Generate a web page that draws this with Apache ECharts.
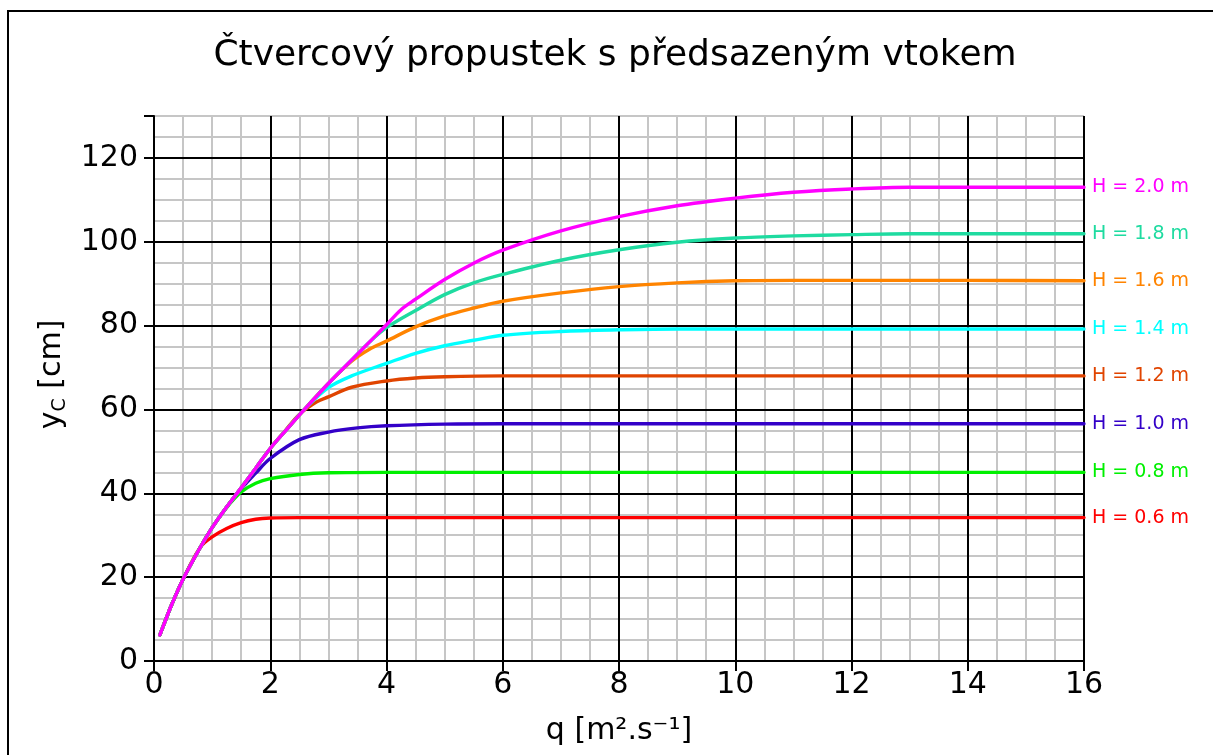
<!DOCTYPE html>
<html>
<head>
<meta charset="utf-8">
<title>Čtvercový propustek s předsazeným vtokem</title>
<script src="https://cdn.jsdelivr.net/npm/echarts@6/dist/echarts.min.js"></script>
<style>
  html, body { margin: 0; padding: 0; background: #ffffff; }
  #chart { width: 1213px; height: 755px; }
</style>
</head>
<body>
<div id="chart"></div>
<script>
// Common rising branch y_c(q), shared by all curves until each one levels off
const envelope = [
  [0.1, 6.2], [0.2, 9.8], [0.3, 13.3], [0.5, 19.5], [0.8, 27.2], [1.0, 31.8],
  [1.2, 35.8], [1.5, 41.3], [1.75, 46.0], [2.0, 50.7], [2.3, 55.5], [2.6, 60.2],
  [3.0, 66.2], [3.4, 71.8], [3.7, 76.0], [4.0, 80.2], [4.25, 83.8], [4.5, 86.3],
  [5.0, 91.0], [5.5, 94.9], [6.0, 98.0], [7.0, 102.6], [8.0, 106.0], [9.0, 108.6],
  [10, 110.4], [11, 111.8], [12, 112.6], [13, 113.0], [14, 113.0], [16, 113.0]
];

// Branches leaving the common curve, one per head H (q, y_c)
const branchH06 = [[1.0, 29.6], [1.25, 31.6], [1.5, 33.0], [1.75, 33.8], [2.0, 34.1], [2.5, 34.2], [16, 34.2]];
const branchH08 = [[1.25, 36.6], [1.5, 40.3], [1.75, 42.4], [2.0, 43.5], [2.5, 44.5], [3.0, 44.9], [4.0, 45.0], [16, 45.0]];
const branchH10 = [[1.45, 40.3], [1.75, 44.8], [2.0, 48.3], [2.5, 52.8], [3.0, 54.6], [3.5, 55.6], [4.0, 56.1], [5.0, 56.5], [6.0, 56.6], [16, 56.6]];
const branchH12 = [[2.25, 54.8], [2.5, 58.8], [2.8, 61.8], [3.0, 63.0], [3.4, 65.3], [4.0, 66.8], [4.5, 67.5], [5.0, 67.8], [6.0, 68.0], [16, 68.0]];
const branchH14 = [[3.0, 65.2], [3.4, 68.0], [4.0, 71.0], [4.5, 73.4], [5.0, 75.2], [5.5, 76.5], [6.0, 77.7], [7.0, 78.6], [8.0, 79.0], [9.0, 79.2], [16, 79.2]];
const branchH16 = [[3.4, 71.5], [3.7, 74.3], [4.0, 76.3], [4.5, 79.7], [5.0, 82.3], [5.5, 84.2], [6.0, 85.8], [7.0, 87.8], [8.0, 89.3], [9.0, 90.2], [10, 90.7], [11, 90.8], [12, 90.8], [14, 90.8], [16, 90.7]];
const branchH18 = [[4.0, 79.5], [4.5, 83.6], [5.0, 87.4], [5.5, 90.2], [6.0, 92.2], [7.0, 95.6], [8.0, 98.1], [9.0, 99.9], [10, 100.9], [11, 101.4], [12, 101.7], [13, 101.9], [14, 101.9], [16, 101.9]];

// Curve names and the q at which each one leaves the common branch
const curveNames = ['H = 0.6 m', 'H = 0.8 m', 'H = 1.0 m', 'H = 1.2 m', 'H = 1.4 m', 'H = 1.6 m', 'H = 1.8 m', 'H = 2.0 m'];
const branchStart = [0.8, 1.0, 1.2, 2.0, 2.6, 3.0, 3.7, null];
const branches = [branchH06, branchH08, branchH10, branchH12, branchH14, branchH16, branchH18, null];
const curveColors = ['#ff0000', '#00f000', '#3300c8', '#e04400', '#00ffff', '#ff8400', '#1edba0', '#ff00ff'];

const xTicks = { min: 0, max: 16, major: 2, minor: 0.5 };
const yTicks = { min: 0, max: 130, major: 20, minor: 5 };

const FONT = '"DejaVu Sans", "Liberation Sans", Arial, sans-serif';

function curveData(i) {
  if (branches[i] === null) return envelope.slice();
  const head = envelope.filter(p => p[0] <= branchStart[i]);
  return head.concat(branches[i]);
}

const series = curveNames.map((name, i) => ({
  name: name,
  type: 'line',
  data: curveData(i),
  showSymbol: false,
  smooth: 0.35,
  lineStyle: { color: curveColors[i], width: 3.4, cap: 'round', join: 'round' },
  itemStyle: { color: curveColors[i] },
  z: 2 + i * 0.01,
  endLabel: {
    show: true,
    formatter: '{a}',
    color: curveColors[i],
    fontFamily: FONT,
    fontSize: 19,
    distance: 8
  },
  emphasis: { disabled: true }
}));

const chart = echarts.init(document.getElementById('chart'), null, { renderer: 'canvas' });

chart.setOption({
  animation: false,
  backgroundColor: '#ffffff',
  grid: { left: 154, right: 129, top: 116, bottom: 94, containLabel: false, outerBoundsMode: 'none' },
  graphic: [
    {
      type: 'rect',
      shape: { x: 8, y: 11, width: 1300, height: 900 },
      style: { fill: 'none', stroke: '#000000', lineWidth: 2 },
      silent: true
    },
    {
      type: 'text',
      x: 615,
      y: 56,
      style: {
        text: 'Čtvercový propustek s předsazeným vtokem',
        fill: '#000000',
        font: '36px ' + FONT,
        align: 'center',
        verticalAlign: 'middle'
      },
      silent: true
    }
  ],
  xAxis: [
    {
      type: 'value',
      min: xTicks.min, max: xTicks.max, interval: xTicks.major,
      position: 'bottom',
      z: 1,
      axisLine: { show: true, onZero: false, lineStyle: { color: '#000', width: 2 } },
      axisTick: { show: true, length: 10, lineStyle: { color: '#000', width: 2 } },
      axisLabel: { color: '#000', fontFamily: FONT, fontSize: 30, margin: 9 },
      splitLine: { show: true, lineStyle: { color: '#000', width: 2 } },
      name: 'q [m².s⁻¹]',
      nameLocation: 'middle',
      nameGap: 55,
      nameTextStyle: { color: '#000', fontFamily: FONT, fontSize: 30 }
    },
    {
      type: 'value',
      min: xTicks.min, max: xTicks.max, interval: xTicks.minor,
      position: 'bottom',
      z: 0,
      axisLine: { show: false },
      axisTick: { show: false },
      axisLabel: { show: false },
      splitLine: { show: true, lineStyle: { color: '#c6c6c6', width: 2 } }
    }
  ],
  yAxis: [
    {
      type: 'value',
      min: yTicks.min, max: yTicks.max, interval: yTicks.major,
      z: 1,
      axisLine: { show: true, onZero: false, lineStyle: { color: '#000', width: 2 } },
      axisTick: { show: true, length: 10, lineStyle: { color: '#000', width: 2 } },
      axisLabel: {
        color: '#000', fontFamily: FONT, fontSize: 30, margin: 16,
        formatter: v => (v % yTicks.major === 0 ? String(v) : '')
      },
      splitLine: { show: true, showMaxLine: false, lineStyle: { color: '#000', width: 2 } },
      name: '{y|y}{c|C}{y| [cm]}',
      nameLocation: 'middle',
      nameGap: 82,
      nameRotate: 90,
      nameTextStyle: {
        color: '#000',
        padding: [0, 0, 0, 28],
        rich: {
          y: { fontFamily: FONT, fontSize: 30, color: '#000', lineHeight: 36 },
          c: { fontFamily: FONT, fontSize: 19, color: '#000', lineHeight: 36, verticalAlign: 'bottom' }
        }
      }
    },
    {
      type: 'value',
      min: yTicks.min, max: yTicks.max, interval: yTicks.minor,
      z: 0,
      axisLine: { show: false },
      axisTick: { show: false },
      axisLabel: { show: false },
      splitLine: { show: true, lineStyle: { color: '#c6c6c6', width: 2 } }
    }
  ],
  series: series
});
</script>
</body>
</html>
